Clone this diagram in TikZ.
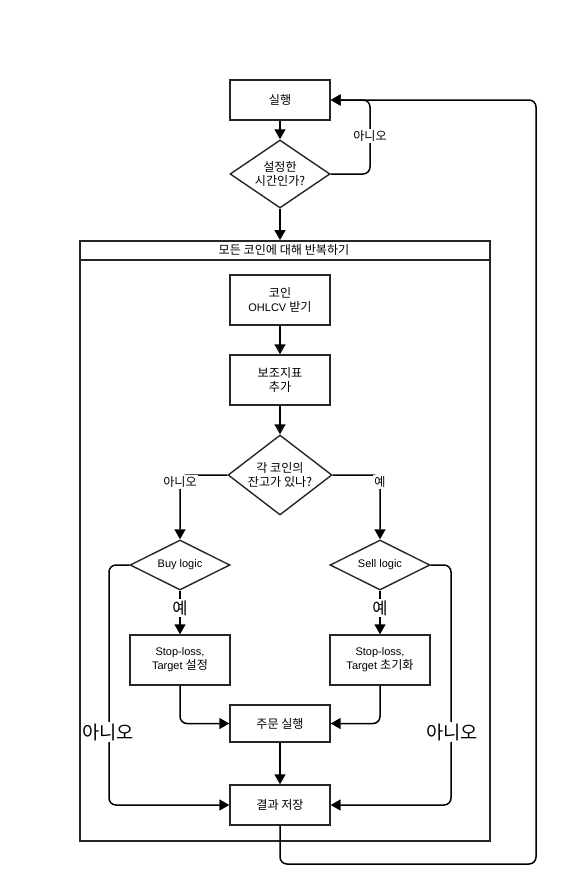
\documentclass[tikz,border=0pt]{standalone}
\usepackage{fontspec}
\setmainfont{Liberation Sans}
\newfontfamily\kr[Scale=1.1]{Noto Sans CJK KR}
\usetikzlibrary{shapes.geometric,arrows.meta}
\begin{document}
\begin{tikzpicture}[x=1pt,y=-1pt,
  box/.style={draw=black!85, line width=1.4pt, minimum width=100pt, minimum height=50pt, inner sep=0pt, align=center, font=\fontsize{11}{14}\selectfont},
  dia/.style={draw=black!85, line width=1.4pt, diamond, aspect=1.6, minimum width=100pt, inner sep=0pt, align=center, font=\fontsize{11}{14}\selectfont},
  conn/.style={line width=1.5pt, -{Triangle[length=10pt,width=11pt]}, rounded corners=7pt},
  lbl/.style={fill=white, inner sep=1.5pt, font=\fontsize{11}{13}\selectfont\kr},
  biglbl/.style={fill=white, inner sep=1.5pt, font=\fontsize{17}{19}\selectfont\kr}]
\useasboundingbox (0,0) rectangle (560,889);
\fill[white] (0,0) rectangle (560,889);

% container
\node[draw=black!85, line width=1.5pt, minimum width=410pt, minimum height=600pt, inner sep=0pt, anchor=north west] (loop) at (79,240) {};
\draw[draw=black!85, line width=1.5pt] (79,260) -- (489,260);
\node[font=\fontsize{11}{13}\selectfont\kr] (hdr) at (284,250) {모든 코인에 대해 반복하기};

% nodes
\node[box, minimum height=40pt] (run) at (280,100) {\kr 실행};
\node[dia, minimum height=68pt] (time) at (280,174) {\kr 설정한\\\kr 시간인가?};
\node[box] (ohlcv) at (280,300) {\kr 코인\\OHLCV {\kr 받기}};
\node[box] (ind) at (280,380) {\kr 보조지표\\\kr 추가};
\node[dia, minimum height=80pt] (bal) at (280,475) {\kr 각 코인의\\\kr 잔고가 있나?};
\node[dia, minimum height=50pt] (buy) at (180,565) {Buy logic};
\node[dia, minimum height=50pt] (sell) at (380,565) {Sell logic};
\node[box] (sl1) at (180,660) {Stop-loss,\\Target {\kr 설정}};
\node[box] (sl2) at (380,660) {Stop-loss,\\Target {\kr 초기화}};
\node[box, minimum height=37pt] (order) at (280,723.5) {\kr 주문 실행};
\node[box, minimum height=40pt] (save) at (280,805) {\kr 결과 저장};

\coordinate (tl) at (370,174);
\coordinate (bl) at (109,565);
\coordinate (brr) at (451,565);
\coordinate (corner) at (536,864);

% connectors
\draw[conn] (run) -- (time);
\draw[conn] (time.south) -- (time.south |- loop.north);
\draw[conn] (time.east) -- (tl) |- (run.east);
\node[lbl] (no1) at (370,136) {아니오};

\draw[conn] (ohlcv) -- (ind);
\draw[conn] (ind) -- (bal);
\draw[conn] (bal.west) -| (buy.north);
\draw[conn] (bal.east) -| (sell.north);
\node[lbl] (no2) at (180,482) {아니오};
\node[lbl] (yes1) at (380,482) {예};

\draw[conn] (buy.south) -- (sl1.north);
\draw[conn] (sell.south) -- (sl2.north);
\node[biglbl, font=\fontsize{15}{17}\selectfont\kr] (yes2) at (180,608) {예};
\node[biglbl, font=\fontsize{15}{17}\selectfont\kr] (yes3) at (380,608) {예};

\draw[conn] (sl1.south) |- (order.west);
\draw[conn] (sl2.south) |- (order.east);
\draw[conn] (order) -- (save);

\draw[conn] (buy.west) -- (bl) |- (save.west);
\draw[conn] (sell.east) -- (brr) |- (save.east);
\node[biglbl] (no3) at (108,732) {아니오};
\node[biglbl] (no4) at (452,732) {아니오};

\draw[conn] (save.south) |- (corner) |- (run.east);
\end{tikzpicture}
\end{document}
